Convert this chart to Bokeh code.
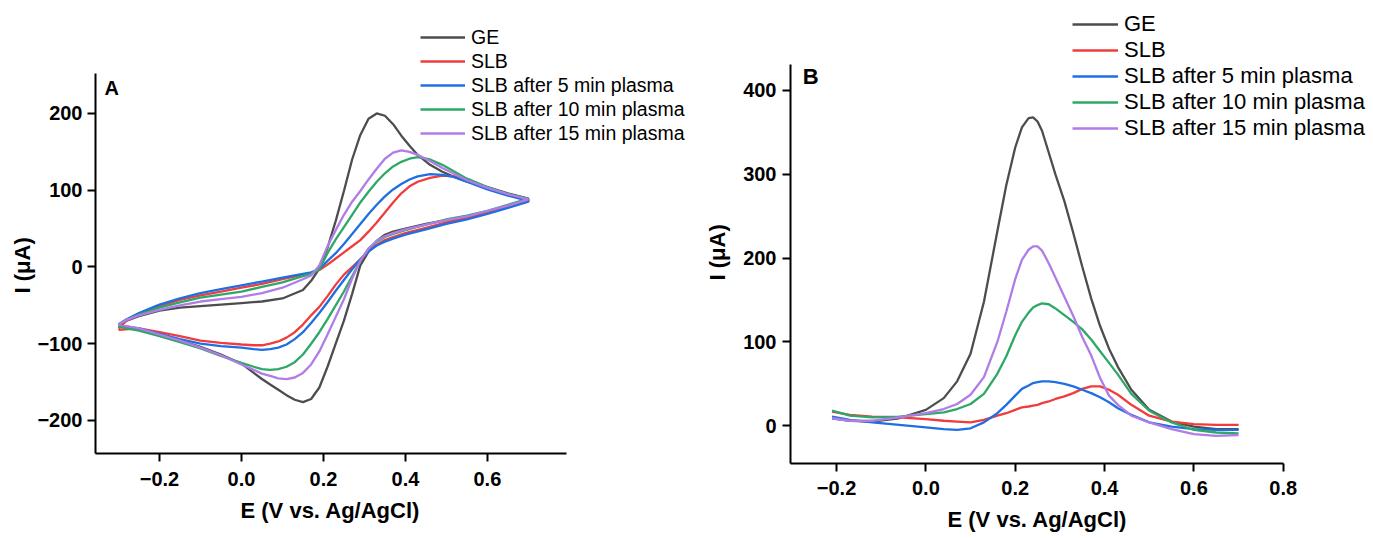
from bokeh.plotting import figure
from bokeh.layouts import row
from bokeh.models import Range1d, FixedTicker, CustomJSTickFormatter, Legend, LegendItem, Label, Title
from bokeh.embed import file_html
from bokeh.resources import INLINE

FONT = "Liberation Sans"

series_names = ["GE", "SLB", "SLB after 5 min plasma", "SLB after 10 min plasma", "SLB after 15 min plasma"]
series_colors = ["#4d4d4d", "#f03c3c", "#1f6fe3", "#2ea866", "#b07ce6"]

# ---------- Panel A: cyclic voltammograms ----------
cv_fwd_E = [-0.30, -0.28, -0.25, -0.20, -0.15, -0.10, -0.05, 0.00, 0.05, 0.10, 0.15, 0.17, 0.19, 0.21, 0.23, 0.25,
            0.27, 0.29, 0.31, 0.33, 0.35, 0.37, 0.39, 0.41, 0.43, 0.46, 0.49, 0.52, 0.55, 0.60, 0.65, 0.70]
cv_rev_E = [0.70, 0.65, 0.60, 0.55, 0.50, 0.45, 0.40, 0.37, 0.35, 0.33, 0.31, 0.29, 0.27, 0.25, 0.23, 0.21,
            0.19, 0.17, 0.15, 0.13, 0.11, 0.09, 0.07, 0.05, 0.03, 0.00, -0.05, -0.10, -0.15, -0.20, -0.25, -0.30]

cv_ge_fwd = [-75, -70, -64, -57, -53, -51, -49, -47, -45, -41, -30, -18, -2, 25, 60, 99,
             140, 172, 193, 200, 197, 186, 171, 158, 146, 133, 124, 117, 111, 104, 96, 89]
cv_ge_rev = [88, 80, 72, 66, 61, 56, 50, 46, 42, 34, 20, 2, -35, -70, -100, -130,
             -157, -172, -176, -173, -167, -160, -153, -146, -138, -126, -114, -104, -96, -89, -81, -76]

cv_slb_fwd = [-80, -70, -62, -51, -43, -37, -32, -27, -22, -16, -10, -8, -4, 3, 11, 19,
              27, 35, 46, 58, 71, 84, 96, 105, 111, 116, 119, 118, 112, 102, 94, 87]
cv_slb_rev = [86, 78, 70, 64, 58, 51, 44, 39, 35, 29, 21, 10, 0, -10, -23, -38,
              -52, -63, -75, -85, -92, -97, -100, -102, -102, -101, -99, -96, -90, -85, -80, -82]

cv_p5_fwd = [-75, -68, -60, -49, -41, -34, -29, -24, -19, -14, -9, -7, -3, 8, 18, 30,
             43, 56, 69, 81, 92, 101, 108, 114, 118, 121, 120, 117, 111, 101, 93, 86]
cv_p5_rev = [85, 77, 69, 62, 56, 49, 42, 37, 33, 28, 20, 10, -3, -17, -31, -46,
             -60, -73, -85, -94, -101, -105, -107, -108, -107, -105, -103, -100, -94, -87, -80, -76]

cv_p10_fwd = [-75, -69, -62, -53, -46, -40, -36, -32, -26, -20, -12, -9, -3, 18, 36, 52,
              68, 84, 98, 111, 122, 131, 137, 141, 143, 140, 133, 124, 115, 104, 95, 89]
cv_p10_rev = [89, 81, 73, 67, 62, 55, 48, 43, 39, 33, 24, 8, -12, -32, -50, -68,
              -85, -100, -114, -124, -130, -133, -134, -133, -130, -125, -116, -106, -98, -90, -83, -78]

cv_p15_fwd = [-75, -69, -63, -56, -50, -45, -42, -39, -34, -27, -16, -11, 2, 27, 48, 68,
              85, 99, 114, 128, 141, 149, 152, 150, 146, 138, 129, 121, 113, 103, 95, 88]
cv_p15_rev = [88, 80, 73, 66, 61, 55, 49, 44, 40, 34, 24, 8, -15, -42, -65, -88,
              -110, -127, -138, -144, -146, -145, -142, -139, -134, -127, -115, -105, -96, -88, -80, -75]

# ---------- Panel B: differential pulse voltammograms ----------
dpv_E = [-0.21, -0.17, -0.12, -0.06, 0.00, 0.04, 0.07, 0.10, 0.13, 0.16, 0.18, 0.20, 0.215, 0.23, 0.24, 0.25,
         0.26, 0.275, 0.29, 0.31, 0.33, 0.35, 0.37, 0.39, 0.41, 0.43, 0.46, 0.50, 0.55, 0.60, 0.65, 0.70]
dpv_ge = [9, 6, 5, 9, 19, 33, 53, 86, 148, 232, 287, 332, 356, 367, 368, 363,
          352, 326, 300, 268, 230, 190, 152, 119, 92, 70, 43, 19, 5, -1, -4, -4]
dpv_slb = [17, 13, 11, 10, 8, 6, 5, 4, 7, 12, 15, 19, 22, 23, 24, 25,
           27, 29, 32, 35, 39, 44, 47, 47, 43, 37, 25, 12, 5, 2, 1, 1]
dpv_p5 = [11, 7, 4, 1, -2, -4, -5, -3, 4, 15, 25, 36, 44, 48, 51, 52,
          53, 53, 52, 50, 47, 43, 39, 34, 28, 21, 13, 4, -1, -4, -5, -5]
dpv_p10 = [18, 12, 10, 11, 14, 16, 20, 26, 38, 62, 83, 108, 124, 135, 141, 144,
           146, 145, 140, 132, 124, 115, 103, 89, 75, 61, 38, 18, 4, -5, -8, -9]
dpv_p15 = [9, 6, 6, 10, 15, 20, 26, 37, 58, 100, 136, 175, 198, 210, 214, 214,
           209, 194, 177, 154, 131, 106, 84, 57, 36, 25, 12, 4, -4, -10, -12, -11]

ticks_A_x = [-0.2, 0.0, 0.2, 0.4, 0.6]
ticks_A_y = [-200, -100, 0, 100, 200]
ticks_B_x = [-0.2, 0.0, 0.2, 0.4, 0.6, 0.8]
ticks_B_y = [0, 100, 200, 300, 400]

# visible axis extents (the frame is larger so the legend can sit above the axes)
axis_A_x = (-0.356, 0.792)
axis_A_y = (-243, 252)
axis_B_x = (-0.303, 0.8)
axis_B_y = (-45, 431)

x_label = "E (V vs. Ag/AgCl)"
y_label = "I (\u03bcA)"


def make_fig(width, height, xr, yr, borders):
    l, r, t, b = borders
    p = figure(width=width, height=height, x_range=Range1d(*xr), y_range=Range1d(*yr),
               output_backend="svg", toolbar_location=None,
               min_border_left=l, min_border_right=r, min_border_top=t, min_border_bottom=b)
    p.frame_align = False
    p.xgrid.visible = False
    p.ygrid.visible = False
    p.outline_line_color = None
    p.background_fill_color = "white"
    p.border_fill_color = "white"
    for ax in (p.xaxis[0], p.yaxis[0]):
        ax.axis_line_width = 2
        ax.axis_line_color = "black"
        ax.major_tick_line_width = 2
        ax.major_tick_line_color = "black"
        ax.major_tick_in = 0
        ax.major_tick_out = 8
        ax.minor_tick_line_color = None
        ax.major_label_text_font = FONT
        ax.major_label_text_font_style = "bold"
        ax.major_label_text_font_size = "20px"
        ax.major_label_text_color = "black"
    return p


def axis_title(text, offset, standoff, valign="bottom"):
    return Title(text=text, align="left", offset=offset, standoff=standoff, vertical_align=valign,
                 text_font=FONT, text_font_size="22px", text_font_style="bold", text_color="black")


fmt1 = CustomJSTickFormatter(code="return tick.toFixed(1).replace('-', '\u2212');")
fmt0 = CustomJSTickFormatter(code="return tick.toFixed(0).replace('-', '\u2212');")

# ---- Panel A ----
pA = make_fig(690, 538, (axis_A_x[0], 1.0954), (axis_A_y[0], 334.1), (95, 0, 10, 85))
pA.xaxis.bounds = axis_A_x
pA.yaxis.bounds = axis_A_y
pA.xaxis.ticker = FixedTicker(ticks=ticks_A_x)
pA.yaxis.ticker = FixedTicker(ticks=ticks_A_y)
pA.xaxis.formatter = fmt1
pA.yaxis.formatter = fmt0
pA.xaxis.major_label_standoff = 10
pA.yaxis.major_label_standoff = 5
pA.add_layout(axis_title(x_label, 145, 14), "below")
pA.add_layout(axis_title(y_label, 160, 0), "left")

cv_sets = [(cv_ge_fwd, cv_ge_rev), (cv_slb_fwd, cv_slb_rev), (cv_p5_fwd, cv_p5_rev),
           (cv_p10_fwd, cv_p10_rev), (cv_p15_fwd, cv_p15_rev)]
rendA = []
for (fw, rv), c in zip(cv_sets, series_colors):
    r = pA.line(x=cv_fwd_E + cv_rev_E, y=fw + rv, line_color=c, line_width=2.3)
    rendA.append(r)

legA = Legend(items=[LegendItem(label=n, renderers=[r]) for n, r in zip(series_names, rendA)],
              location=(325, 308.5), orientation="vertical", padding=0, margin=0, spacing=1,
              glyph_width=45, glyph_height=18, label_height=18, label_standoff=6,
              label_text_font=FONT, label_text_font_size="19.5px", label_text_color="black",
              border_line_color=None, background_fill_alpha=0)
pA.add_layout(legA)
pA.add_layout(Label(x=-0.334, y=233.7, text="A", text_font=FONT,
                    text_font_style="bold", text_font_size="20px", text_baseline="alphabetic",
                    text_color="black"))

# ---- Panel B ----
pB = make_fig(683, 538, (axis_B_x[0], 1.002), (axis_B_y[0], 501.4), (100, 0, 5, 75))
pB.xaxis.bounds = axis_B_x
pB.yaxis.bounds = axis_B_y
pB.xaxis.ticker = FixedTicker(ticks=ticks_B_x)
pB.yaxis.ticker = FixedTicker(ticks=ticks_B_y)
pB.xaxis.formatter = fmt1
pB.yaxis.formatter = fmt0
pB.xaxis.major_label_standoff = 9
pB.yaxis.major_label_standoff = 6
pB.add_layout(axis_title(x_label, 157, 14), "below")
pB.add_layout(axis_title(y_label, 183, 21), "left")

dpv_sets = [dpv_ge, dpv_slb, dpv_p5, dpv_p10, dpv_p15]
rendB = []
for ys, c in zip(dpv_sets, series_colors):
    r = pB.line(x=dpv_E, y=ys, line_color=c, line_width=2.3)
    rendB.append(r)

legB = Legend(items=[LegendItem(label=n, renderers=[r]) for n, r in zip(series_names, rendB)],
              location=(282, 322), orientation="vertical", padding=0, margin=0, spacing=0,
              glyph_width=46, glyph_height=20, label_height=20, label_standoff=6,
              label_text_font=FONT, label_text_font_size="22px", label_text_color="black",
              border_line_color=None, background_fill_alpha=0)
pB.add_layout(legB)
pB.add_layout(Label(x=-0.2758, y=416.6, text="B", text_font=FONT,
                    text_font_style="bold", text_font_size="22px", text_baseline="alphabetic",
                    text_color="black"))

layout = row(pA, pB)
open("out.html", "w").write(file_html(layout, INLINE))
